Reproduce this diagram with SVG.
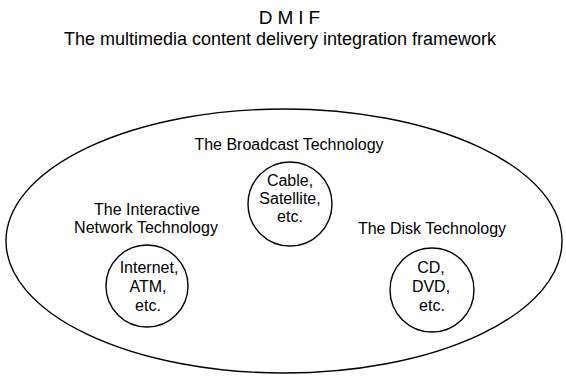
<svg xmlns="http://www.w3.org/2000/svg" width="566" height="376" viewBox="0 0 566 376">
<style>
  text { font-family: "Liberation Sans", Arial, sans-serif; fill: #000; text-anchor: middle; }
  .title { font-size: 19px; letter-spacing: 5px; }
  .sub { font-size: 18px; }
  .lbl { font-size: 16px; }
  .shape { fill: none; stroke: #000; stroke-width: 1.4; }
</style>
<rect width="566" height="376" fill="#fff"/>
<g id="title">
  <text class="title" x="292" y="24">DMIF</text>
  <text class="sub" x="280" y="45">The multimedia content delivery integration framework</text>
</g>
<g id="framework">
  <ellipse class="shape" cx="284" cy="241" rx="278" ry="132"/>
</g>
<g id="broadcast">
  <text class="lbl" x="289" y="150">The Broadcast Technology</text>
  <circle class="shape" cx="290" cy="204" r="42"/>
  <text class="lbl" x="290" y="186">Cable,</text>
  <text class="lbl" x="290" y="204">Satellite,</text>
  <text class="lbl" x="290" y="222">etc.</text>
</g>
<g id="interactive">
  <text class="lbl" x="147" y="215">The Interactive</text>
  <text class="lbl" x="146" y="233">Network Technology</text>
  <circle class="shape" cx="147" cy="286" r="41"/>
  <text class="lbl" x="149" y="273">Internet,</text>
  <text class="lbl" x="148" y="292">ATM,</text>
  <text class="lbl" x="148" y="311">etc.</text>
</g>
<g id="disk">
  <text class="lbl" x="432" y="234">The Disk Technology</text>
  <circle class="shape" cx="432" cy="290" r="42"/>
  <text class="lbl" x="431" y="273">CD,</text>
  <text class="lbl" x="431" y="292">DVD,</text>
  <text class="lbl" x="432" y="311">etc.</text>
</g>
<g id="connectors"></g>
</svg>
